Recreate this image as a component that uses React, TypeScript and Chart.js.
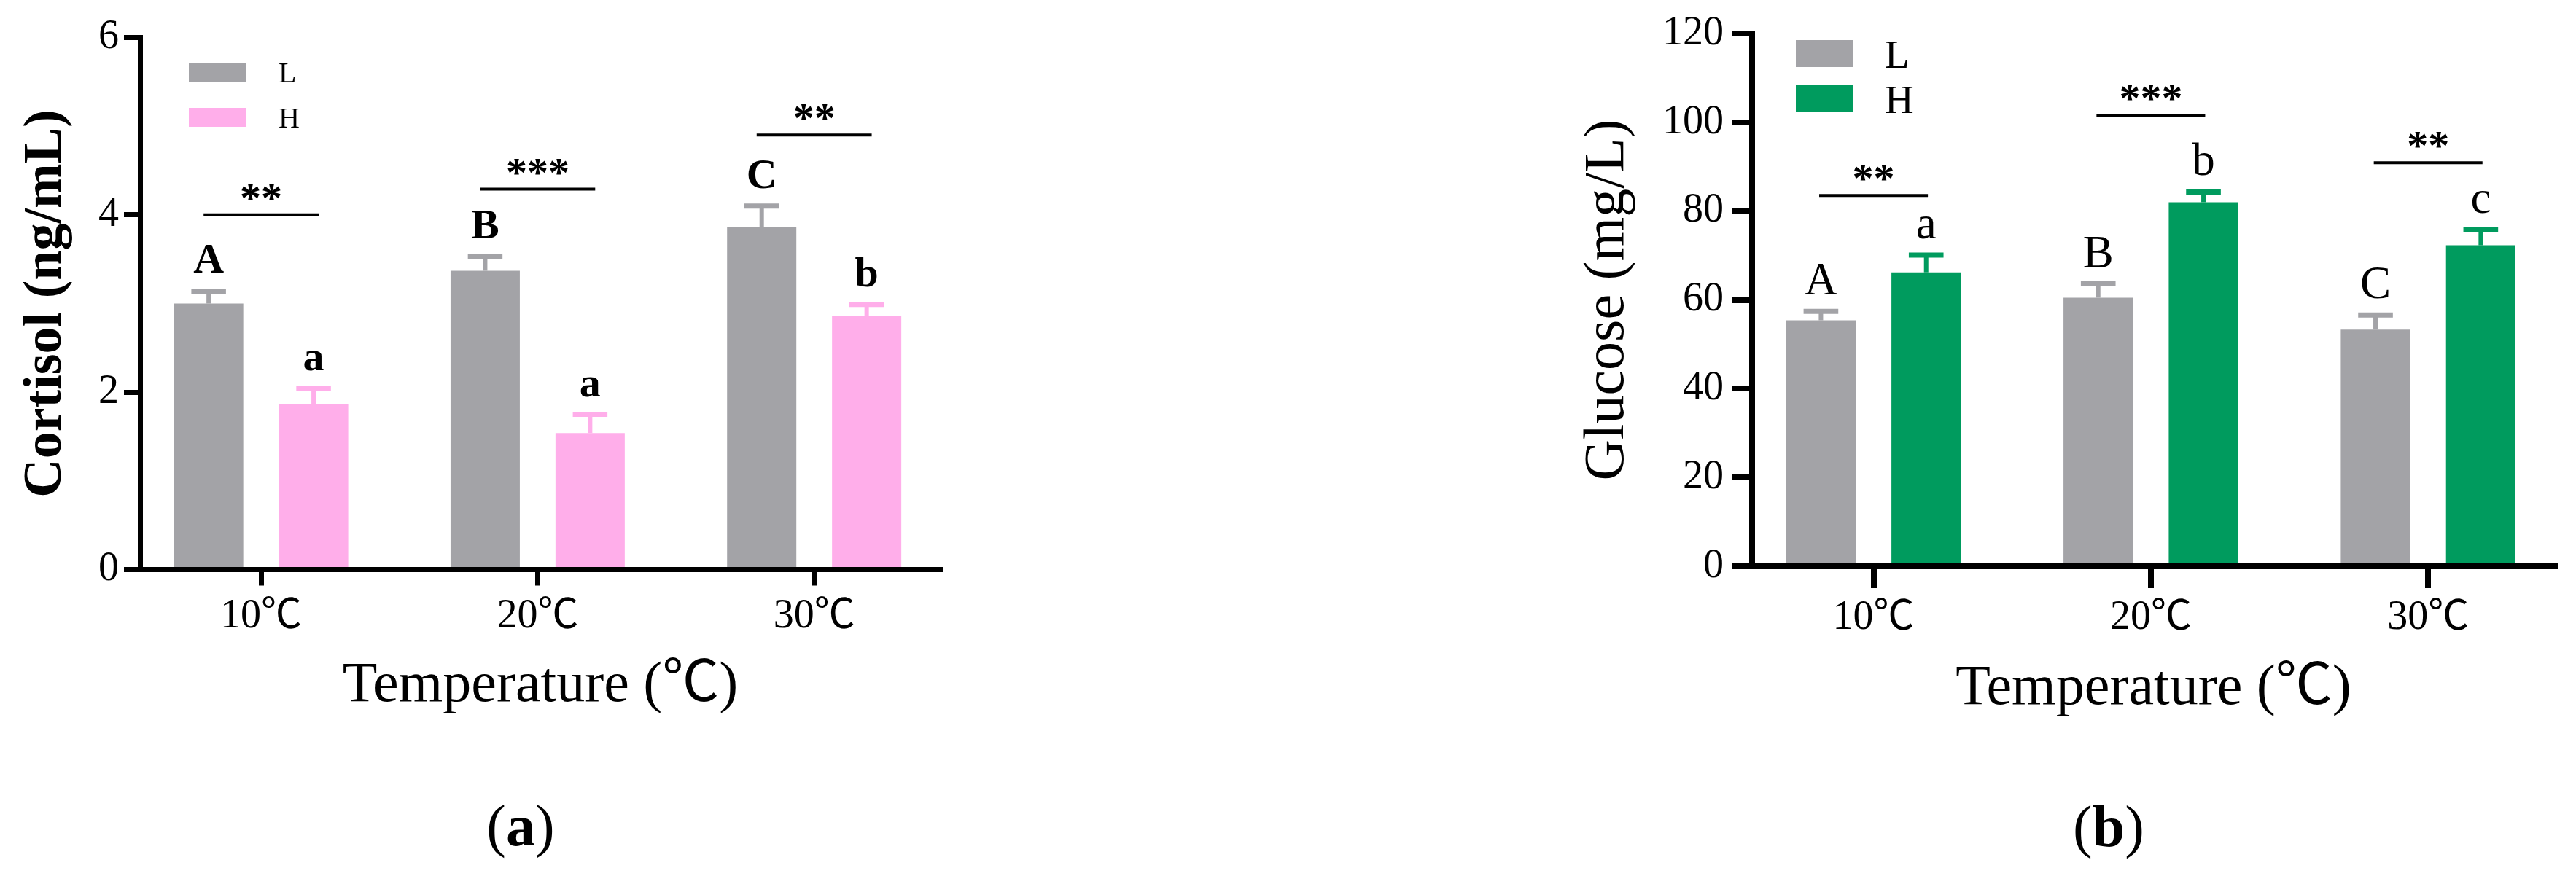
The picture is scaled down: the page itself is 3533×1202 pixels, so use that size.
import React, { useEffect, useRef } from 'react';
import { Chart, registerables } from 'chart.js';

Chart.register(...registerables);

const SERIF = "'Liberation Serif', 'Noto Sans CJK SC', serif";

// ---- shared ----
const categories = ['10℃', '20℃', '30℃'];
const seriesLabels = ['L', 'H'];
const xTitle = 'Temperature (℃)';

// ---- (a) Cortisol ----
const cortisolL = [3.0, 3.37, 3.86];
const cortisolLErr = [0.14, 0.16, 0.24];
const cortisolH = [1.87, 1.54, 2.86];
const cortisolHErr = [0.17, 0.21, 0.13];
const cortisolLLetters = ['A', 'B', 'C'];
const cortisolHLetters = ['a', 'a', 'b'];
const cortisolStars = ['**', '***', '**'];
const cortisolStarLevel = [4.0, 4.29, 4.9];
const cortisolTicks = [0, 2, 4, 6];

// ---- (b) Glucose ----
const glucoseL = [55.4, 60.5, 53.3];
const glucoseLErr = [2.0, 3.1, 3.3];
const glucoseH = [66.2, 82.0, 72.3];
const glucoseHErr = [3.9, 2.3, 3.5];
const glucoseLLetters = ['A', 'B', 'C'];
const glucoseHLetters = ['a', 'b', 'c'];
const glucoseStars = ['**', '***', '**'];
const glucoseStarLevel = [83.5, 101.6, 90.9];
const glucoseTicks = [0, 20, 40, 60, 80, 100, 120];

const GRAY = '#A3A3A7';
const PINK = '#FFAEEA';
const GREEN = '#009B5E';

type Series = { label: string; values: number[]; errs: number[]; letters: string[]; color: string };

type PanelCfg = {
  left: number;
  width: number;
  height: number;
  series: Series[];
  stars: string[];
  starLevel: number[];
  yTicks: number[];
  yMax: number;
  yTitle: string;
  yTitleBold: boolean;
  yTitleSize: number;
  padding: { left: number; right: number; top: number; bottom: number };
  yWidth: number;
  xHeight: number;
  yTickLen: number;
  xTickLen: number;
  yTickPad: number;
  xTickPad: number;
  axisW: number;
  letterBold: boolean;
  letterSize: number;
  letterGap: number;
  sigHalf: number;
  legendX: number;
  legendY: number;
  legendW: number;
  legendH: number;
  legendGap: number;
  legendTextDx: number;
  legendFont: number;
  panelLabel: string;
  panelLabelX: number;
  panelLabelY: number;
};

const panelA: PanelCfg = {
  left: 0,
  width: 1500,
  height: 1202,
  series: [
    { label: seriesLabels[0], values: cortisolL, errs: cortisolLErr, letters: cortisolLLetters, color: GRAY },
    { label: seriesLabels[1], values: cortisolH, errs: cortisolHErr, letters: cortisolHLetters, color: PINK },
  ],
  stars: cortisolStars,
  starLevel: cortisolStarLevel,
  yTicks: cortisolTicks,
  yMax: 6,
  yTitle: 'Cortisol (ng/mL)',
  yTitleBold: true,
  yTitleSize: 74,
  padding: { left: 27, right: 210, top: 51.5, bottom: 221 },
  yWidth: 165,
  xHeight: 199.5,
  yTickLen: 22,
  xTickLen: 22,
  yTickPad: 7,
  xTickPad: 9,
  axisW: 7,
  letterBold: true,
  letterSize: 58,
  letterGap: 25,
  sigHalf: 0.208,
  legendX: 259,
  legendY: 86,
  legendW: 78,
  legendH: 26,
  legendGap: 62,
  legendTextDx: 123,
  legendFont: 40,
  panelLabel: 'a',
  panelLabelX: 714,
  panelLabelY: 1160,
};

const panelB: PanelCfg = {
  left: 1750,
  width: 1783,
  height: 1202,
  series: [
    { label: seriesLabels[0], values: glucoseL, errs: glucoseLErr, letters: glucoseLLetters, color: GRAY },
    { label: seriesLabels[1], values: glucoseH, errs: glucoseHErr, letters: glucoseHLetters, color: GREEN },
  ],
  stars: glucoseStars,
  starLevel: glucoseStarLevel,
  yTicks: glucoseTicks,
  yMax: 120,
  yTitle: 'Glucose (mg/L)',
  yTitleBold: false,
  yTitleSize: 78,
  padding: { left: 417, right: 29, top: 46, bottom: 217 },
  yWidth: 236,
  xHeight: 208,
  yTickLen: 28,
  xTickLen: 30,
  yTickPad: 11,
  xTickPad: 8,
  axisW: 8,
  letterBold: false,
  letterSize: 63,
  letterGap: 23,
  sigHalf: 0.196,
  legendX: 713,
  legendY: 55,
  legendW: 78,
  legendH: 37,
  legendGap: 62,
  legendTextDx: 122,
  legendFont: 55,
  panelLabel: 'b',
  panelLabelX: 1142,
  panelLabelY: 1161,
};

function BarPanel({ cfg }: { cfg: PanelCfg }) {
  const ref = useRef<HTMLCanvasElement | null>(null);

  useEffect(() => {
    const canvas = ref.current;
    if (!canvas) return;

    const overlay = {
      id: 'overlay',
      afterDatasetsDraw(chart: any) {
        const ctx = chart.ctx as CanvasRenderingContext2D;
        const xs = chart.scales.x;
        const ys = chart.scales.y;
        ctx.save();
        cfg.series.forEach((s, d) => {
          const meta = chart.getDatasetMeta(d);
          meta.data.forEach((bar: any, i: number) => {
            const x = bar.x;
            const top = bar.y;
            const capY = ys.getPixelForValue(s.values[i] + s.errs[i]);
            const capW = bar.width * 0.5;
            ctx.strokeStyle = s.color;
            ctx.lineCap = 'butt';
            ctx.lineWidth = 6;
            ctx.beginPath();
            ctx.moveTo(x, top);
            ctx.lineTo(x, capY);
            ctx.stroke();
            ctx.lineWidth = 7;
            ctx.beginPath();
            ctx.moveTo(x - capW / 2, capY);
            ctx.lineTo(x + capW / 2, capY);
            ctx.stroke();
            ctx.fillStyle = '#000';
            ctx.font = `${cfg.letterBold ? 'bold ' : ''}${cfg.letterSize}px ${SERIF}`;
            ctx.textAlign = 'center';
            ctx.textBaseline = 'alphabetic';
            ctx.fillText(s.letters[i], x, capY - cfg.letterGap);
          });
        });
        const unit = xs.getPixelForValue(1) - xs.getPixelForValue(0);
        cfg.stars.forEach((st, i) => {
          const cx = xs.getPixelForValue(i);
          const y = ys.getPixelForValue(cfg.starLevel[i]);
          const half = unit * cfg.sigHalf;
          ctx.strokeStyle = '#000';
          ctx.lineWidth = 4;
          ctx.beginPath();
          ctx.moveTo(cx - half, y);
          ctx.lineTo(cx + half, y);
          ctx.stroke();
          ctx.font = `bold 58px ${SERIF}`;
          ctx.fillStyle = '#000';
          ctx.textAlign = 'center';
          ctx.textBaseline = 'alphabetic';
          const m = ctx.measureText(st);
          const mid = (m.actualBoundingBoxAscent - m.actualBoundingBoxDescent) / 2;
          ctx.fillText(st, cx, y - 31 + mid);
        });
        ctx.restore();
      },
      afterDraw(chart: any) {
        const ctx = chart.ctx as CanvasRenderingContext2D;
        ctx.save();
        cfg.series.forEach((s, d) => {
          const y0 = cfg.legendY + d * cfg.legendGap;
          ctx.fillStyle = s.color;
          ctx.fillRect(cfg.legendX, y0, cfg.legendW, cfg.legendH);
          ctx.fillStyle = '#000';
          ctx.font = `${cfg.legendFont}px ${SERIF}`;
          ctx.textAlign = 'left';
          ctx.textBaseline = 'alphabetic';
          ctx.fillText(s.label, cfg.legendX + cfg.legendTextDx, y0 + cfg.legendH + 1);
        });
        const size = 80;
        const regular = `${size}px ${SERIF}`;
        const bold = `bold ${size}px ${SERIF}`;
        ctx.font = regular;
        const wOpen = ctx.measureText('(').width;
        const wClose = ctx.measureText(')').width;
        ctx.font = bold;
        const wMid = ctx.measureText(cfg.panelLabel).width;
        const total = wOpen + wMid + wClose;
        let x = cfg.panelLabelX - total / 2;
        ctx.textAlign = 'left';
        ctx.textBaseline = 'alphabetic';
        ctx.fillStyle = '#000';
        ctx.font = regular;
        ctx.fillText('(', x, cfg.panelLabelY);
        x += wOpen;
        ctx.font = bold;
        ctx.fillText(cfg.panelLabel, x, cfg.panelLabelY);
        x += wMid;
        ctx.font = regular;
        ctx.fillText(')', x, cfg.panelLabelY);
        ctx.restore();
      },
    };

    const chart = new Chart(canvas, {
      type: 'bar',
      data: {
        datasets: cfg.series.map((s) => ({
          label: s.label,
          data: s.values.map((v, i) => ({ x: i, y: v })),
          backgroundColor: s.color,
          borderWidth: 0,
          categoryPercentage: 0.759,
          barPercentage: 0.66,
        })),
      },
      options: {
        animation: false,
        responsive: false,
        maintainAspectRatio: false,
        events: [],
        layout: { padding: cfg.padding },
        plugins: {
          legend: { display: false },
          tooltip: { enabled: false },
          title: { display: false },
        },
        scales: {
          x: {
            type: 'linear',
            offset: false,
            min: -0.438,
            max: 2.457,
            afterBuildTicks: (s: any) => {
              s.ticks = categories.map((_, i) => ({ value: i }));
            },
            afterFit: (s: any) => {
              s.height = cfg.xHeight;
            },
            ticks: {
              callback: (v: any) => categories[v as number] ?? '',
              autoSkip: false,
              maxRotation: 0,
              minRotation: 0,
              color: '#000',
              padding: cfg.xTickPad,
              font: { family: SERIF, size: 56 },
            },
            grid: {
              display: true,
              offset: false,
              drawOnChartArea: false,
              drawTicks: true,
              tickLength: cfg.xTickLen,
              lineWidth: cfg.axisW,
              color: '#000',
            },
            border: { display: true, width: cfg.axisW, color: '#000' },
            title: {
              display: true,
              text: xTitle,
              color: '#000',
              padding: 0,
              font: { family: SERIF, size: 78, lineHeight: 1 },
            },
          },
          y: {
            type: 'linear',
            min: 0,
            max: cfg.yMax,
            afterBuildTicks: (s: any) => {
              s.ticks = cfg.yTicks.map((v) => ({ value: v }));
            },
            afterFit: (s: any) => {
              s.width = cfg.yWidth;
            },
            ticks: {
              color: '#000',
              padding: cfg.yTickPad,
              font: { family: SERIF, size: 56 },
            },
            grid: {
              display: true,
              drawOnChartArea: false,
              drawTicks: true,
              tickLength: cfg.yTickLen,
              lineWidth: cfg.axisW,
              color: '#000',
            },
            border: { display: true, width: cfg.axisW, color: '#000' },
            title: {
              display: true,
              text: cfg.yTitle,
              color: '#000',
              padding: 0,
              font: {
                family: SERIF,
                size: cfg.yTitleSize,
                weight: cfg.yTitleBold ? 'bold' : 'normal',
                lineHeight: 1,
              },
            },
          },
        },
      } as any,
      plugins: [overlay],
    });

    return () => {
      chart.destroy();
    };
  }, [cfg]);

  return (
    <canvas
      ref={ref}
      width={cfg.width}
      height={cfg.height}
      style={{
        position: 'absolute',
        left: cfg.left,
        top: 0,
        width: cfg.width,
        height: cfg.height,
      }}
    />
  );
}

export default function App() {
  return (
    <div
      style={{
        position: 'fixed',
        left: 0,
        top: 0,
        width: 3533,
        height: 1202,
        background: '#ffffff',
        overflow: 'hidden',
      }}
    >
      <BarPanel cfg={panelA} />
      <BarPanel cfg={panelB} />
    </div>
  );
}
